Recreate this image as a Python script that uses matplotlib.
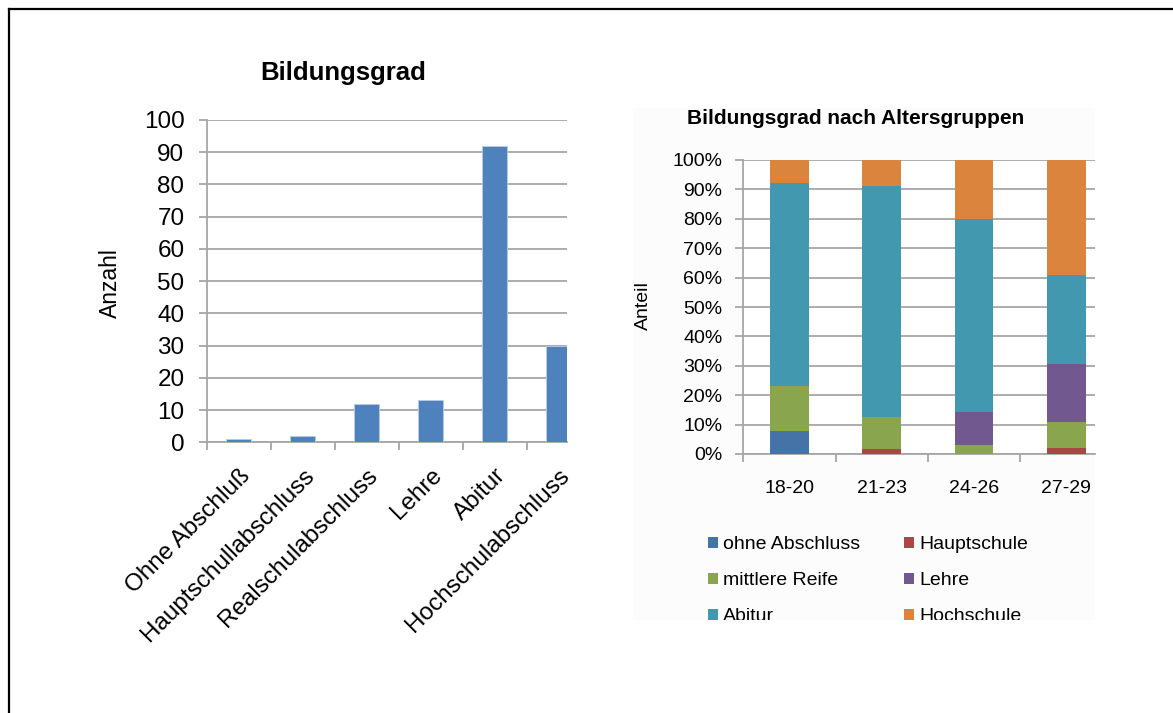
import matplotlib
matplotlib.use("Agg")
import matplotlib.pyplot as plt
from matplotlib.patches import Rectangle
from matplotlib.lines import Line2D
import numpy as np

plt.rcParams['font.family'] = ['Liberation Sans', 'DejaVu Sans']

# left chart: counts per degree
abschluss = ["Ohne Abschluß", "Hauptschullabschluss", "Realschulabschluss",
             "Lehre", "Abitur", "Hochschulabschluss"]
anzahl = [1, 2, 12, 13, 92, 30]

# right chart: shares (%) per age group
altersgruppen = ["18-20", "21-23", "24-26", "27-29"]
ohne_abschluss = [7.7, 0.0, 0.0, 0.0]
hauptschule = [0.0, 1.8, 0.0, 2.2]
mittlere_reife = [15.4, 10.7, 2.9, 8.7]
lehre = [0.0, 0.0, 11.4, 19.6]
abitur = [69.2, 78.6, 65.7, 30.4]
hochschule = [7.7, 8.9, 20.0, 39.1]

serien = [("ohne Abschluss", ohne_abschluss, "#4572A7"),
          ("Hauptschule", hauptschule, "#AA4643"),
          ("mittlere Reife", mittlere_reife, "#89A54E"),
          ("Lehre", lehre, "#71588F"),
          ("Abitur", abitur, "#4198AF"),
          ("Hochschule", hochschule, "#DB843D")]

W, H = 1173, 713
fig = plt.figure(figsize=(W / 100, H / 100), dpi=100)
fig.patch.set_facecolor("white")

grid_c = "#a6a6a6"

def px(x, y):
    return x / W, 1 - y / H

# faint chart background of the pasted right chart
fig.patches.append(Rectangle(px(633, 620), (1095 - 633) / W, (620 - 108) / H,
                             transform=fig.transFigure, facecolor="#fcfcfc",
                             edgecolor="none", zorder=-5))

# ---- left chart
ax1 = fig.add_axes([206.7 / W, 1 - 442.3 / H, (567 - 206.7) / W, (442.3 - 120) / H])
x = np.arange(len(abschluss))
ax1.bar(x, anzahl, width=0.4, color="#4F81BD", edgecolor="#b8cce4", linewidth=0.6, zorder=3)
ax1.set_xlim(-0.5, 5.13)
ax1.set_ylim(0, 100)
ax1.set_yticks(range(0, 101, 10))
ax1.yaxis.grid(True, color=grid_c, linewidth=1.3, zorder=0)
ax1.set_xticks(x)
ax1.set_xticklabels(abschluss, rotation=45, ha="right", va="top",
                    rotation_mode="anchor", fontsize=17.5)
ax1.set_xticks(np.arange(-0.5, 5, 1), minor=True)
ax1.tick_params(axis="x", which="major", length=0, pad=16)
ax1.tick_params(axis="x", which="minor", length=6, color=grid_c, width=1.3)
ax1.tick_params(axis="y", length=6, color=grid_c, width=1.3, labelsize=17.5, pad=10)
for s in ["top", "right"]:
    ax1.spines[s].set_visible(False)
for s in ["left", "bottom"]:
    ax1.spines[s].set_color(grid_c)
    ax1.spines[s].set_linewidth(1.3)
ax1.set_facecolor("white")

fig.text(343 / W, 1 - 73 / H, "Bildungsgrad", ha="center", va="center",
         fontsize=18.5, fontweight="bold")
fig.text(110 / W, 1 - 283 / H, "Anzahl", ha="center", va="center",
         rotation=90, fontsize=16.5)

# ---- right chart
ax2 = fig.add_axes([743.3 / W, 1 - 454 / H, (1095 - 743.3) / W, (454 - 160) / H])
xr = np.arange(len(altersgruppen))
bottom = np.zeros(len(altersgruppen))
handles = {}
for name, vals, col in serien:
    handles[name] = ax2.bar(xr, vals, bottom=bottom, width=0.42, color=col, label=name, zorder=3)
    bottom += np.array(vals)
ax2.set_xlim(-0.5, 3.31)
ax2.set_ylim(0, 100)
ax2.set_yticks(range(0, 101, 10))
ax2.set_yticklabels([f"{v}%" for v in range(0, 101, 10)])
ax2.yaxis.grid(True, color=grid_c, linewidth=1.3, zorder=0)
ax2.set_xticks(xr)
ax2.set_xticklabels(altersgruppen, fontsize=14)
ax2.set_xticks(np.arange(-0.5, 3, 1), minor=True)
ax2.tick_params(axis="x", which="major", length=0, pad=19)
ax2.tick_params(axis="x", which="minor", length=6, color=grid_c, width=1.3)
ax2.tick_params(axis="y", length=6, color=grid_c, width=1.3, labelsize=14, pad=9)
for s in ["top", "right"]:
    ax2.spines[s].set_visible(False)
for s in ["left", "bottom"]:
    ax2.spines[s].set_color(grid_c)
    ax2.spines[s].set_linewidth(1.3)
ax2.set_facecolor("white")

fig.text(856 / W, 1 - 119 / H, "Bildungsgrad nach Altersgruppen", ha="center",
         va="center", fontsize=15, fontweight="bold")
fig.text(643 / W, 1 - 306 / H, "Anteil", ha="center", va="center",
         rotation=90, fontsize=14)

# legend reads row by row: ohne/Haupt, mittlere/Lehre, Abitur/Hochschule
reihenfolge = ["ohne Abschluss", "mittlere Reife", "Abitur",
               "Hauptschule", "Lehre", "Hochschule"]
fig.legend(handles=[handles[n] for n in reihenfolge], ncol=2, loc="upper left",
           bbox_to_anchor=px(708, 536), frameon=False, fontsize=14,
           handlelength=0.5, handleheight=0.5, handletextpad=0.25,
           columnspacing=2.3, labelspacing=0.98, borderaxespad=0, borderpad=0)

# clip the bottom of the right chart like the pasted picture
fig.patches.append(Rectangle(px(620, 713), (1110 - 620) / W, (713 - 620) / H,
                             transform=fig.transFigure, facecolor="white",
                             edgecolor="none", zorder=10))

# frame lines (top and left)
fig.add_artist(Line2D([9 / W, 1], [1 - 9 / H, 1 - 9 / H], color="black", linewidth=1.6))
fig.add_artist(Line2D([9 / W, 9 / W], [0, 1 - 9 / H], color="black", linewidth=1.6))

fig.savefig("out.png", dpi=100)
